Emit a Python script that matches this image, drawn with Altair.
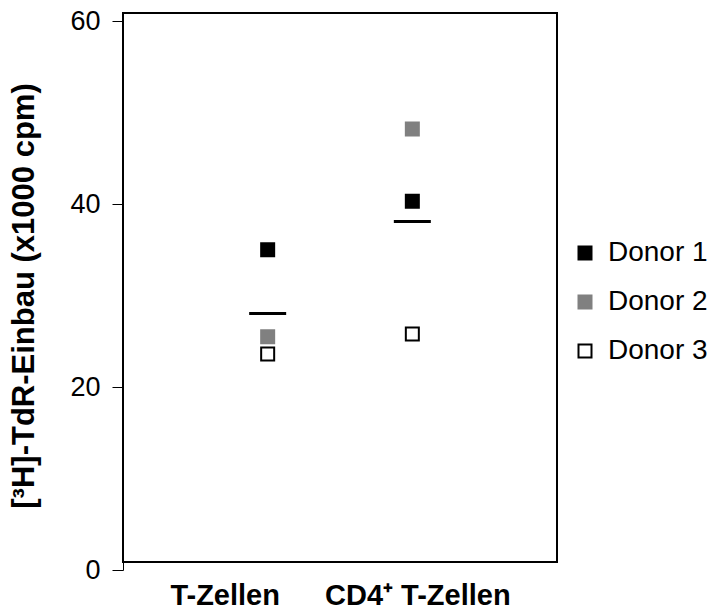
import altair as alt
import pandas as pd

categories = ["T-Zellen", "CD4\u207a T-Zellen"]
donors = ["Donor 1", "Donor 2", "Donor 3"]
t_zellen_values = [35.0, 25.5, 23.6]
cd4_values = [40.3, 48.2, 25.8]
y_ticks = [0, 20, 40, 60]

rows = []
for cat, vals in zip(categories, [t_zellen_values, cd4_values]):
    for d, v in zip(donors, vals):
        rows.append({"cat": cat, "donor": d, "value": v})
df = pd.DataFrame(rows)

FONT = "Liberation Sans"

xenc = alt.X(
    "cat:N",
    sort=categories,
    scale=alt.Scale(type="point", padding=1),
    axis=alt.Axis(
        title=None, domain=False, ticks=False, tickSize=0, labelAngle=0,
        labelFont=FONT, labelFontSize=29, labelFontWeight="bold", labelColor="black",
        labelPadding=19, labelLimit=400,
        labelOffset={"condition": {"test": "datum.value == 'T-Zellen'", "value": -43}, "value": 5},
    ),
)

yscale = alt.Scale(domain=[0, 60], range=[557, 8], nice=False, zero=True)
yaxis = alt.Axis(
    values=y_ticks, grid=False, domainColor="black", domainWidth=1,
    tickColor="black", tickSize=11, tickWidth=1,
    labelFont=FONT, labelFontSize=27, labelColor="black", labelPadding=12,
    title="[\u00b3H]-TdR-Einbau (x1000 cpm)", titleFont=FONT, titleFontSize=31,
    titleFontWeight="bold", titleColor="black", titlePadding=29,
)

points = alt.Chart(df).mark_square(opacity=1, strokeWidth=2, size=169).encode(
    x=xenc,
    y=alt.Y("value:Q", scale=yscale, axis=yaxis),
    fill=alt.Fill("donor:N", scale=alt.Scale(domain=donors, range=["black", "#808080", "white"]),
                  legend=alt.Legend(title=None)),
    stroke=alt.Stroke("donor:N", scale=alt.Scale(domain=donors, range=["black", "#808080", "black"]),
                      legend=alt.Legend(title=None)),
)

means = alt.Chart(df).mark_tick(color="black", size=37, thickness=3, orient="horizontal").encode(
    x=alt.X("cat:N", sort=categories),
    y=alt.Y("mean(value):Q"),
)

chart = alt.layer(points, means).properties(
    width=434, height=549,
    autosize="none",
    padding={"left": 115, "top": 5, "right": 155, "bottom": 46},
).configure_view(stroke="black", strokeWidth=2).configure_legend(
    orient="none", legendX=448, legendY=226,
    labelFont=FONT, labelFontSize=28, labelColor="black",
    symbolSize=169, symbolStrokeWidth=2, symbolType="square",
    labelOffset=9, rowPadding=21, padding=0,
)

chart.save("out.html", embed_options={"renderer": "svg", "actions": False})
